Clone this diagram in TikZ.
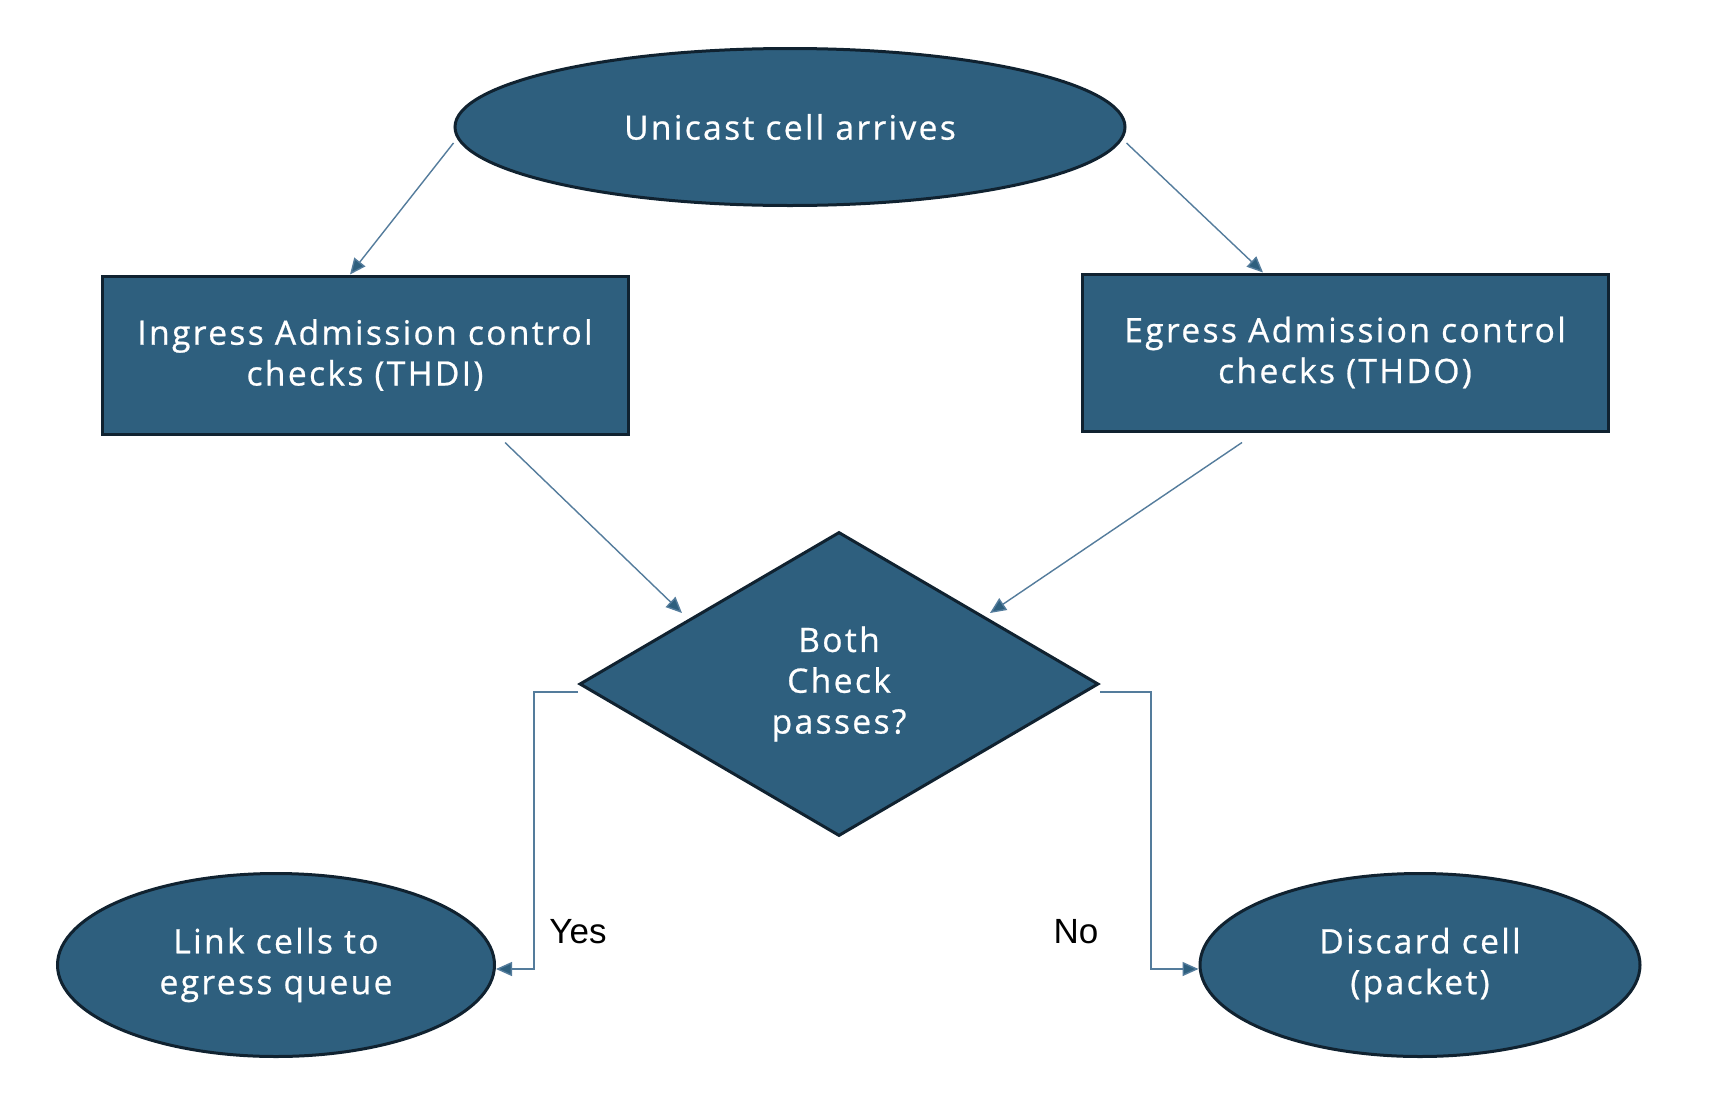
\documentclass[tikz,border=0pt]{standalone}
\usepackage{fontspec}
\setmainfont{Open Sans}[LetterSpace=7,FakeBold=0.7]
\newfontfamily\labfont{Liberation Sans}
\usetikzlibrary{shapes.geometric,arrows.meta,calc}
\definecolor{mainfill}{RGB}{46,95,126}
\definecolor{edgedark}{RGB}{16,34,48}
\definecolor{conn}{RGB}{84,124,156}
\tikzset{
  shapebase/.style={fill=mainfill,draw=edgedark,line width=1.5pt,text=white,
    font=\fontsize{16.8}{20.4}\selectfont,align=center,inner sep=0pt},
  oval/.style={shapebase,ellipse},
  boxnode/.style={shapebase,rectangle},
  decision/.style={shapebase,diamond},
  flow/.style={draw=conn,line width=0.7pt,-{Triangle[length=8pt,width=7pt,fill=mainfill]}},
  lab/.style={font=\labfont\fontsize{17.5}{20}\selectfont,text=black}
}
\begin{document}
\begin{tikzpicture}[x=0.5pt,y=-0.5pt]
\fill[white] (0,0) rectangle (1730,1098);
\useasboundingbox (0,0) rectangle (1730,1098);
\node[oval,minimum width=335pt,minimum height=78.5pt] (T) at (790,127) {Unicast cell arrives};
\node[boxnode,minimum width=263pt,minimum height=79pt] (L) at (365,355) {Ingress Admission control\\checks (THDI)};
\node[boxnode,minimum width=263pt,minimum height=78.5pt] (R) at (1345,352.5) {Egress Admission control\\checks (THDO)};
\node[decision,minimum width=259.5pt,minimum height=152pt] (D) at (839,684) {Both\\Check\\passes?};
\node[oval,minimum width=218.5pt,minimum height=91.5pt] (Y) at (276,965) {Link cells to\\egress queue};
\node[oval,minimum width=220pt,minimum height=91.5pt] (N) at (1420,965) {Discard cell\\(packet)};
\draw[flow] ([yshift=-8pt]T.west) -- ([xshift=-7.5pt]L.north);
\draw[flow] ([yshift=-8pt]T.east) -- ([xshift=-41pt]R.north);
\draw[flow] ([xshift=70pt,yshift=-3.5pt]L.south) -- ([xshift=-78.5pt,yshift=35.5pt]D.center);
\draw[flow] ([xshift=-51.5pt,yshift=-5pt]R.south) -- ([xshift=75.5pt,yshift=35.5pt]D.center);
\draw[flow] ([yshift=-4pt]D.west) -- ++(-22pt,0) |- ([yshift=-2pt]Y.east);
\draw[flow] ([yshift=-4pt]D.east) -- ++(25.5pt,0) |- ([yshift=-2pt]N.west);
\node[lab] (ly) at (578,932) {Yes};
\node[lab] (ln) at (1076,932) {No};
\end{tikzpicture}
\end{document}
